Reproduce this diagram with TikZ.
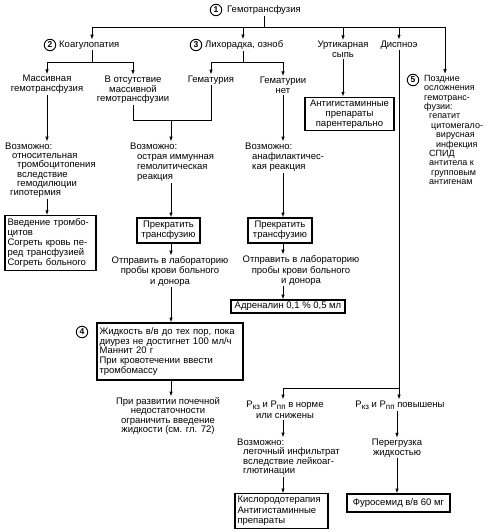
\documentclass[tikz,border=0pt]{standalone}
\usepackage{fontspec}
\setmainfont{Liberation Sans}
\usetikzlibrary{arrows.meta}
\newcommand{\sbs}[1]{\raisebox{-2pt}{\fontsize{8}{8}\selectfont #1}}
\begin{document}
\begin{tikzpicture}[x=1pt,y=-1pt,
  every node/.style={font=\fontsize{9.5}{9.6}\selectfont, inner sep=1pt},
  txt/.style={align=center},
  ltxt/.style={align=left},
  box/.style={draw, line width=1.1pt, inner sep=2.5pt},
  num/.style={circle, draw, line width=0.9pt, minimum size=11.5pt, inner sep=0pt, font=\fontsize{8.5}{8.5}\selectfont\bfseries},
  arr/.style={-{Latex[length=4.8pt,width=3.4pt]}, line width=0.8pt},
  ln/.style={line width=0.8pt}]

\useasboundingbox (0,0) rectangle (488,532);

% level 1
\node[num] (c1) at (216,10) {1};
\node[anchor=west] (t1) at (226,10) {Гемотрансфузия};
\coordinate (j1) at (264,27);
\coordinate (jL) at (92,27);
\coordinate (jM) at (243,27);
\coordinate (jR) at (445,27);

% level 2
\node[num] (c2) at (50,45) {2};
\node[anchor=west] (coag) at (58,45) {Коагулопатия};
\node[num] (c3) at (196,45) {3};
\node[anchor=west] (lih) at (204,45) {Лихорадка, озноб};
\node[txt] (urt) at (343,49.5) {Уртикарная\\сыпь};
\node (disp) at (399,45) {Диспноэ};
\node[num] (c5) at (413,80) {5};
\node[ltxt, anchor=north west, font=\fontsize{9}{9.4}\selectfont] (late) at (423,74) {Поздние\\осложнения\\гемотранс-\\фузии:\\
\hspace*{5pt}гепатит\\\hspace*{7pt}цитомегало-\\\hspace*{12pt}вирусная\\\hspace*{12pt}инфекция\\
\hspace*{5pt}СПИД\\\hspace*{5pt}антитела к\\\hspace*{7pt}групповым\\\hspace*{5pt}антигенам};

\draw[ln] (t1.south -| j1) -- (j1);
\draw[ln] (jL) -- (jR);
\draw[arr] (jL) -- (coag.north -| jL);
\draw[arr] (jM) -- (lih.north -| jM);
\draw[arr] (urt.north |- j1) -- (urt.north);
\draw[arr] (disp.north |- j1) -- (disp.north);
\draw[arr] (jR) -- (late.north -| jR);

% level 3
\coordinate (j2) at (92,62);
\coordinate (j2L) at (47,62);
\coordinate (j2R) at (133,62);
\coordinate (j3) at (243,62);
\coordinate (j3L) at (211,62);
\coordinate (j3R) at (283,62);
\node[txt] (mass) at (47,84.5) {Массивная\\гемотрансфузия};
\node[txt] (nomass) at (133,90) {В отсутствие\\массивной\\гемотрансфузии};
\node (hem) at (211,80) {Гематурия};
\node[txt] (nohem) at (283,85.5) {Гематурии\\нет};

\draw[ln] (coag.south -| j2) -- (j2);
\draw[ln] (j2L) -- (j2R);
\draw[arr] (j2L) -- (mass.north);
\draw[arr] (j2R) -- (nomass.north);
\draw[ln] (lih.south -| j3) -- (j3);
\draw[ln] (j3L) -- (j3R);
\draw[arr] (j3L) -- (hem.north);
\draw[arr] (j3R) -- (nohem.north);

% merge
\coordinate (mL) at (133,120);
\coordinate (m1) at (171,120);
\coordinate (mR) at (211,120);
\draw[ln] (nomass.south) -- (mL) -- (mR) -- (hem.south);

% left column
\node[ltxt, anchor=north west, font=\fontsize{9.5}{9.3}\selectfont] (poss1) at (4,141.5) {Возможно:\\
\hspace*{7pt}относительная\\\hspace*{12pt}тромбоцитопения\\\hspace*{12pt}вследствие\\\hspace*{12pt}гемодилюции\\\hspace*{5pt}гипотермия};
\node[box, ltxt, text width=86pt, minimum height=52pt, font=\fontsize{9.5}{10.2}\selectfont] (box1) at (50.5,243) {Введение тромбо-\\цитов\\Согреть кровь пе-\\ред трансфузией\\Согреть больного};
\draw[arr] (mass.south) -- (mass.south |- poss1.north);
\draw[arr] (mass.south |- poss1.south) -- (mass.south |- box1.north);

% middle column
\node[ltxt, anchor=north west, font=\fontsize{9.5}{10.2}\selectfont] (poss2) at (129,141.5) {Возможно:\\
\hspace*{7pt}острая иммунная\\\hspace*{7pt}гемолитическая\\\hspace*{7pt}реакция};
\node[box, txt, minimum width=63pt, minimum height=25pt] (stop1) at (168.5,230.5) {Прекратить\\трансфузию};
\node[txt, font=\fontsize{9.5}{10.3}\selectfont] (lab1) at (170,271.5) {Отправить в лабораторию\\пробы крови больного\\и донора};
\node[box, ltxt, text width=141pt, minimum height=57pt, font=\fontsize{9.5}{9.8}\selectfont] (box4) at (170,351.5) {Жидкость в/в до тех пор, пока\\диурез не достигнет 100 мл/ч\\Маннит 20 г\\При кровотечении ввести\\тромбомассу};
\node[num] (c4) at (82,332) {4};
\node[txt, font=\fontsize{9.5}{9.2}\selectfont] (ren) at (168,416) {При развитии почечной\\недостаточности\\ограничить введение\\жидкости (см. гл. 72)};
\draw[arr] (m1) -- (m1 |- poss2.north);
\draw[arr] (m1 |- poss2.south) -- (m1 |- stop1.north);
\draw[arr] (m1 |- stop1.south) -- (m1 |- lab1.north);
\draw[arr] (m1 |- lab1.south) -- (m1 |- box4.north);
\draw[arr] (m1 |- box4.south) -- (m1 |- ren.north);

% right column
\node[ltxt, anchor=north west, font=\fontsize{9.5}{10.2}\selectfont] (poss3) at (244,141.5) {Возможно:\\
\hspace*{7pt}анафилактичес-\\\hspace*{7pt}кая реакция};
\node[box, txt, minimum width=64pt, minimum height=25pt] (stop2) at (280,230.5) {Прекратить\\трансфузию};
\node[txt, font=\fontsize{9.5}{10.3}\selectfont] (lab2) at (301,270.5) {Отправить в лабораторию\\пробы крови больного\\и донора};
\node[box, minimum width=114pt, minimum height=13pt, inner sep=1pt] (adr) at (288,306.5) {Адреналин 0,1 \% 0,5 мл};
\draw[arr] (nohem.south) -- (nohem.south |- poss3.north);
\draw[arr] (nohem.south |- poss3.south) -- (nohem.south |- stop2.north);
\draw[arr] (nohem.south |- stop2.south) -- (nohem.south |- lab2.north);
\draw[arr] (nohem.south |- lab2.south) -- (nohem.south |- adr.north);

% urticaria
\node[box, txt, minimum width=89pt, minimum height=32pt, font=\fontsize{9.5}{10}\selectfont] (antih) at (349.5,114) {Антигистаминные\\препараты\\парентерально};
\draw[arr] (urt.south) -- (urt.south |- antih.north);

% dyspnea
\coordinate (d1) at (400,388);
\coordinate (d2) at (283,388);
\node[txt, font=\fontsize{9.5}{11}\selectfont] (pnorm) at (285,409.5) {Р\sbs{кз} и Р\sbs{пп} в норме\\или снижены};
\node (pinc) at (400,405) {Р\sbs{кз} и Р\sbs{пп} повышены};
\draw[arr] (disp.south) -- (disp.south |- pinc.north);
\draw[ln] (disp.south |- d1) -- (d2);
\draw[arr] (d2) -- (d2 |- pnorm.north);

\node[ltxt, anchor=north west, font=\fontsize{9.5}{9.4}\selectfont] (poss4) at (236,437.5) {Возможно:\\
\hspace*{6pt}легочный инфильтрат\\\hspace*{6pt}вследствие лейкоаг-\\\hspace*{6pt}глютинации};
\node[box, ltxt, text width=88pt, minimum height=34pt, font=\fontsize{9.5}{10.4}\selectfont] (oxy) at (281.5,511) {Кислородотерапия\\Антигистаминные\\препараты};
\node[txt] (over) at (397,448) {Перегрузка\\жидкостью};
\node[box, minimum width=103pt, minimum height=18pt] (furo) at (398.5,503) {Фуросемид в/в 60 мг};
\draw[arr] (d2 |- pnorm.south) -- (d2 |- poss4.north);
\draw[arr] (d2 |- poss4.south) -- (d2 |- oxy.north);
\draw[arr] (over.north |- pinc.south) -- (over.north);
\draw[arr] (over.south) -- (over.south |- furo.north);
\end{tikzpicture}
\end{document}
